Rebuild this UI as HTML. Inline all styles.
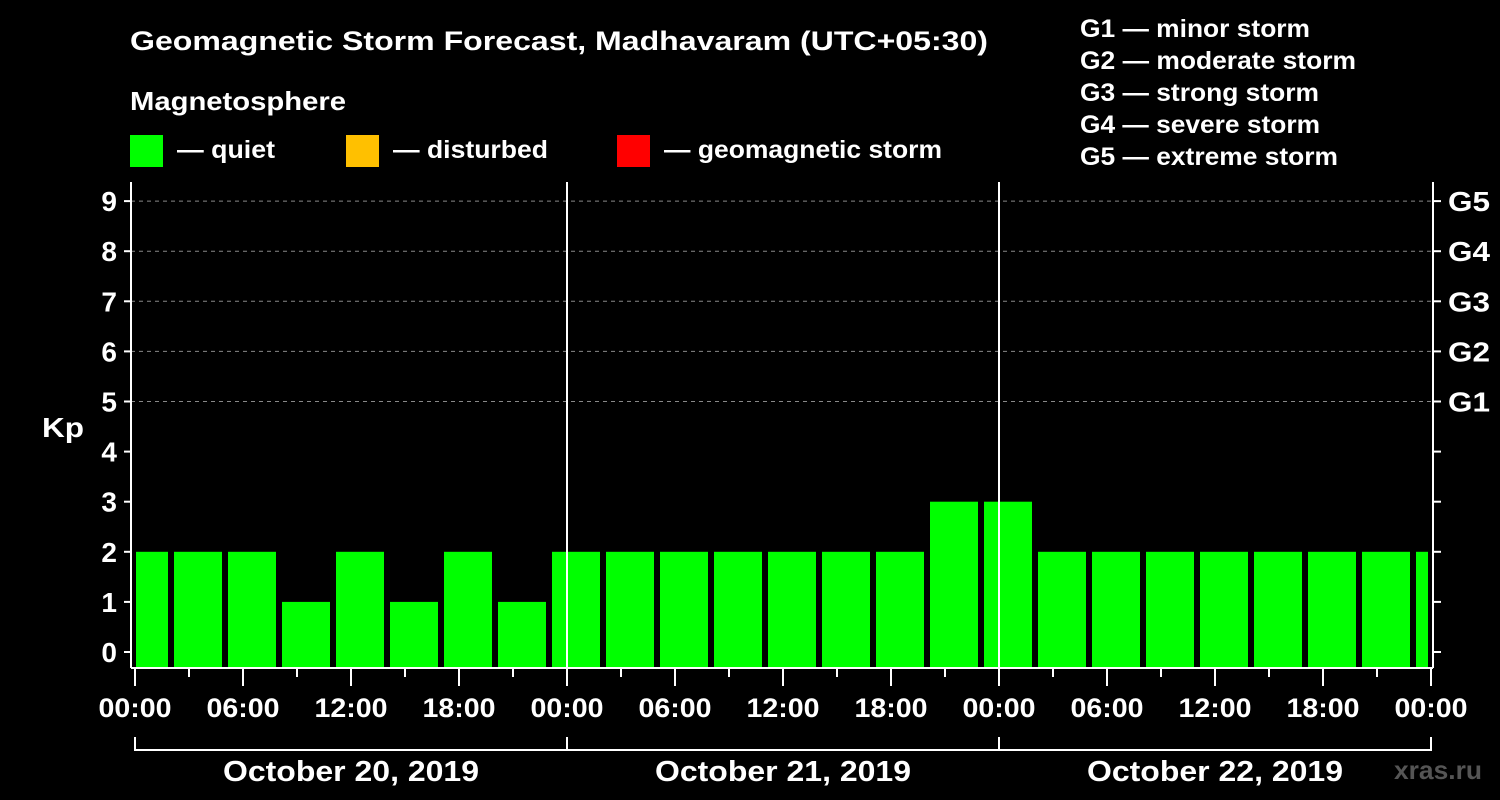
<!DOCTYPE html>
<html><head><meta charset="utf-8"><style>
html,body{margin:0;padding:0;background:#000;}
svg{display:block;font-family:"Liberation Sans",Arial,sans-serif;font-weight:bold;}
</style></head><body>
<svg id="chart" width="1500" height="800" viewBox="0 0 1500 800">
<rect x="0" y="0" width="1500" height="800" fill="#000"/>
<text x="130" y="50" fill="#fff" font-size="27" textLength="858" lengthAdjust="spacingAndGlyphs">Geomagnetic Storm Forecast, Madhavaram (UTC+05:30)</text>
<text x="130" y="110" fill="#fff" font-size="26" textLength="216" lengthAdjust="spacingAndGlyphs">Magnetosphere</text>
<g><rect x="130" y="135" width="33" height="32" fill="#00ff00"/><text x="177" y="158" fill="#fff" font-size="25" textLength="98" lengthAdjust="spacingAndGlyphs">— quiet</text></g>
<g><rect x="346" y="135" width="33" height="32" fill="#ffc000"/><text x="393" y="158" fill="#fff" font-size="25" textLength="155" lengthAdjust="spacingAndGlyphs">— disturbed</text></g>
<g><rect x="617" y="135" width="33" height="32" fill="#ff0000"/><text x="664" y="158" fill="#fff" font-size="25" textLength="278" lengthAdjust="spacingAndGlyphs">— geomagnetic storm</text></g>
<g fill="#fff" font-size="25">
<text x="1080" y="37" textLength="230" lengthAdjust="spacingAndGlyphs">G1 — minor storm</text>
<text x="1080" y="69" textLength="276" lengthAdjust="spacingAndGlyphs">G2 — moderate storm</text>
<text x="1080" y="101" textLength="239" lengthAdjust="spacingAndGlyphs">G3 — strong storm</text>
<text x="1080" y="133" textLength="240" lengthAdjust="spacingAndGlyphs">G4 — severe storm</text>
<text x="1080" y="165" textLength="258" lengthAdjust="spacingAndGlyphs">G5 — extreme storm</text>
</g>
<text x="42" y="437" fill="#fff" font-size="28" textLength="42" lengthAdjust="spacingAndGlyphs">Kp</text>
<text x="1394" y="779" fill="#555" font-size="26" textLength="88" lengthAdjust="spacingAndGlyphs">xras.ru</text>
<g id="plot"></g>
</svg>
<script>
const kpValues = [2,2,2,1,2,1,2,1,2,2,2,2,2,2,2,3,3,2,2,2,2,2,2,2,2];
const yTicks = [0,1,2,3,4,5,6,7,8,9];
const gLabels = ["G1","G2","G3","G4","G5"];
const xTickLabels = ["00:00","06:00","12:00","18:00","00:00","06:00","12:00","18:00","00:00","06:00","12:00","18:00","00:00"];
const dayLabels = ["October 20, 2019","October 21, 2019","October 22, 2019"];

const NS="http://www.w3.org/2000/svg";
const plot=document.getElementById('plot');
const X0=135, PXH=18, LEFT=131, RIGHT=1433, TOP=182, BOTTOM=668;
const x=h=>X0+h*PXH;
const y=v=>652-v*50.1;
function mk(tag,attrs,parent){const e=document.createElementNS(NS,tag);for(const k in attrs)e.setAttribute(k,attrs[k]);(parent||plot).appendChild(e);return e;}

kpValues.forEach((v,i)=>{
  let x1=x(-1+3*i)+3, x2=x(-1+3*i+3)-3;
  x1=Math.max(x1,136); x2=Math.min(x2,1428);
  const c=v>=5?'#ff0000':(v>=4?'#ffc000':'#00ff00');
  const r=mk('rect',{x:x1,y:y(v),width:x2-x1,height:BOTTOM-y(v),fill:c});
  
  
});
yTicks.forEach(v=>{
  if(v>=5){const g=mk('line',{x1:LEFT,x2:RIGHT,y1:y(v),y2:y(v),stroke:'#888','stroke-dasharray':'4,4','stroke-width':1});
  
  }
  const t=mk('line',{x1:124,x2:LEFT,y1:y(v),y2:y(v),stroke:'#fff','stroke-width':2});
  
  
  const t2=mk('line',{x1:RIGHT,x2:1441,y1:y(v),y2:y(v),stroke:'#fff','stroke-width':2});
  
  
  const l=mk('text',{x:117,y:y(v)+10,fill:'#fff','font-size':28,'text-anchor':'end'});
  l.textContent=v;
  
  
});
gLabels.forEach((g,i)=>{
  const l=mk('text',{x:1448,y:y(5+i)+10,fill:'#fff','font-size':28,textLength:42,lengthAdjust:'spacingAndGlyphs'});
  l.textContent=g;
  
  
});
[[LEFT,TOP,LEFT,BOTTOM],[RIGHT,TOP,RIGHT,BOTTOM],[LEFT,BOTTOM,RIGHT,BOTTOM],[x(24),TOP,x(24),BOTTOM],[x(48),TOP,x(48),BOTTOM]].forEach(a=>{
  const l=mk('line',{x1:a[0],y1:a[1],x2:a[2],y2:a[3],stroke:'#fff','stroke-width':2});
  
  
});
for(let h=0;h<=72;h+=3){
  const major=h%6===0;
  const t=mk('line',{x1:x(h),x2:x(h),y1:BOTTOM,y2:major?686:677,stroke:'#fff','stroke-width':2});
  
  
}
xTickLabels.forEach((s,i)=>{
  const l=mk('text',{x:x(i*6),y:717,fill:'#fff','font-size':27,'text-anchor':'middle',textLength:73,lengthAdjust:'spacingAndGlyphs'});
  l.textContent=s;
  
  
});
const b=mk('path',{d:`M${x(0)},737V750H${x(72)}V737M${x(24)},737V750M${x(48)},737V750`,stroke:'#fff','stroke-width':2,fill:'none'});


dayLabels.forEach((s,i)=>{
  const l=mk('text',{x:x(12+24*i),y:781,fill:'#fff','font-size':29,'text-anchor':'middle',textLength:256,lengthAdjust:'spacingAndGlyphs'});
  l.textContent=s;
  
  
});
</script>
</body></html>
